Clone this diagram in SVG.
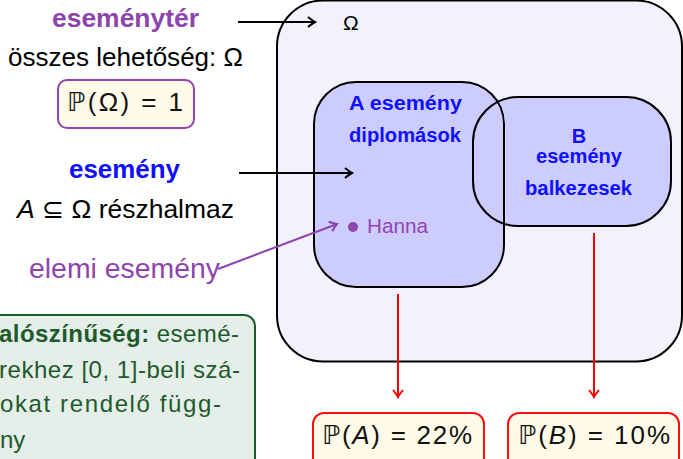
<svg xmlns="http://www.w3.org/2000/svg" width="683" height="459" viewBox="0 0 683 459">
<defs>
<style>
text{font-family:"Liberation Sans","DejaVu Sans",sans-serif}
.b{font-weight:bold}
.set{stroke:#000;stroke-width:2}
.lbl{fill:#1010ff;font-weight:bold;font-size:20px;text-anchor:middle}
.conn{fill:none;stroke-width:2}
.pbox{fill:#fffbe8;stroke:#ff1010;stroke-width:2}
.math{font-size:26px;text-anchor:middle;fill:#111}
.gt{fill:#1d5a2c;font-size:24px}
</style>
<mask id="notA" maskUnits="userSpaceOnUse" x="0" y="0" width="683" height="459">
<rect width="683" height="459" fill="#fff"/>
<rect x="314" y="82" width="190" height="205" rx="42" fill="#000" stroke="#000" stroke-width="2.5"/>
</mask>
<marker id="ak" markerWidth="12" markerHeight="12" refX="0" refY="0" viewBox="-8 -6 10 12" markerUnits="userSpaceOnUse" orient="auto">
<path d="M-7,-5 Q-2,-1 0,0 Q-2,1 -7,5" fill="none" stroke="#000" stroke-width="2"/>
</marker>
<marker id="ar" markerWidth="12" markerHeight="12" refX="0" refY="0" viewBox="-8 -6 10 12" markerUnits="userSpaceOnUse" orient="auto">
<path d="M-7,-5 Q-2,-1 0,0 Q-2,1 -7,5" fill="none" stroke="#ff0000" stroke-width="2"/>
</marker>
<marker id="ap" markerWidth="12" markerHeight="12" refX="0" refY="0" viewBox="-8 -6 10 12" markerUnits="userSpaceOnUse" orient="auto">
<path d="M-7,-5 Q-2,-1 0,0 Q-2,1 -7,5" fill="none" stroke="#8e44ad" stroke-width="2"/>
</marker>
</defs>
<rect width="683" height="459" fill="#fff"/>

<g id="omega">
<rect x="277" y="0.5" width="405" height="361" rx="46" fill="#f2f2ff" class="set"/>
<text x="343" y="30" font-size="21" fill="#000">Ω</text>
</g>

<g id="setA">
<rect x="314" y="82" width="190" height="205" rx="42" fill="#ccccff" class="set"/>
<text x="405.5" y="110" class="lbl" textLength="113" lengthAdjust="spacingAndGlyphs">A esemény</text>
<text x="405" y="142" class="lbl" textLength="112" lengthAdjust="spacingAndGlyphs">diplomások</text>
</g>

<g id="setB">
<rect x="473" y="97" width="198" height="129" rx="45" fill="#ccccff" mask="url(#notA)"/>
<rect x="473" y="97" width="198" height="129" rx="45" fill="none" class="set"/>
<text x="579" y="143" class="lbl">B</text>
<text x="579" y="163" class="lbl" textLength="86" lengthAdjust="spacingAndGlyphs">esemény</text>
<text x="578.5" y="195" class="lbl" textLength="107" lengthAdjust="spacingAndGlyphs">balkezesek</text>
</g>

<g id="hanna">
<circle cx="353" cy="227" r="5" fill="#8e44ad"/>
<text x="367" y="233" font-size="20.5" fill="#9345b4" textLength="61" lengthAdjust="spacingAndGlyphs">Hanna</text>
</g>

<g id="esemenyter">
<text x="125.5" y="27" class="b" font-size="26" text-anchor="middle" fill="#8e44ad" textLength="147" lengthAdjust="spacingAndGlyphs">eseménytér</text>
<text x="8" y="66" font-size="26" fill="#000" textLength="235" lengthAdjust="spacingAndGlyphs">összes lehetőség: Ω</text>
</g>

<g id="pOmega">
<rect x="58" y="80" width="136" height="48" rx="9" fill="#fffbe8" stroke="#8e44ad" stroke-width="2"/>
<text x="125" y="111" class="math" textLength="116" lengthAdjust="spacing">ℙ(Ω) = 1</text>
</g>

<g id="esemeny">
<text x="124.5" y="178" class="b" font-size="26" text-anchor="middle" fill="#1010ff" textLength="111" lengthAdjust="spacingAndGlyphs">esemény</text>
<text x="17" y="218" font-size="26" fill="#000" textLength="217" lengthAdjust="spacingAndGlyphs"><tspan font-style="italic">A</tspan> ⊆ Ω részhalmaz</text>
</g>

<g id="elemi">
<text x="29" y="278" font-size="28" fill="#8e44ad" textLength="191" lengthAdjust="spacingAndGlyphs">elemi esemény</text>
</g>

<g id="valoszinuseg">
<rect x="-20" y="315" width="275" height="170" rx="11" fill="#e5eee8" stroke="#1d5a2c" stroke-width="2"/>
<text x="-1" y="342" class="gt" textLength="240" lengthAdjust="spacing"><tspan class="b">alószínűség:</tspan> esemé-</text>
<text x="-1" y="378" class="gt" textLength="241" lengthAdjust="spacing">rekhez [0, 1]-beli szá-</text>
<text x="0" y="412" class="gt" textLength="221" lengthAdjust="spacing">okat rendelő függ-</text>
<text x="0" y="448" class="gt">ny</text>
</g>

<g id="pA">
<rect x="313" y="413" width="171" height="56" rx="11" class="pbox"/>
<text x="397" y="444" class="math" textLength="150" lengthAdjust="spacing">ℙ(<tspan font-style="italic">A</tspan>) = 22%</text>
</g>

<g id="pB">
<rect x="508" y="413" width="171" height="56" rx="11" class="pbox"/>
<text x="594" y="444" class="math" textLength="152" lengthAdjust="spacing">ℙ(<tspan font-style="italic">B</tspan>) = 10%</text>
</g>

<g id="connectors">
<line x1="238" y1="22" x2="315" y2="22" class="conn" stroke="#000" marker-end="url(#ak)"/>
<line x1="239" y1="173" x2="352" y2="173" class="conn" stroke="#000" marker-end="url(#ak)"/>
<line x1="218" y1="269" x2="337" y2="224" class="conn" stroke="#8e44ad" marker-end="url(#ap)"/>
<line x1="398" y1="294" x2="398" y2="397" class="conn" stroke="#ff0000" marker-end="url(#ar)"/>
<line x1="594" y1="233" x2="594" y2="397" class="conn" stroke="#ff0000" marker-end="url(#ar)"/>
</g>
</svg>
